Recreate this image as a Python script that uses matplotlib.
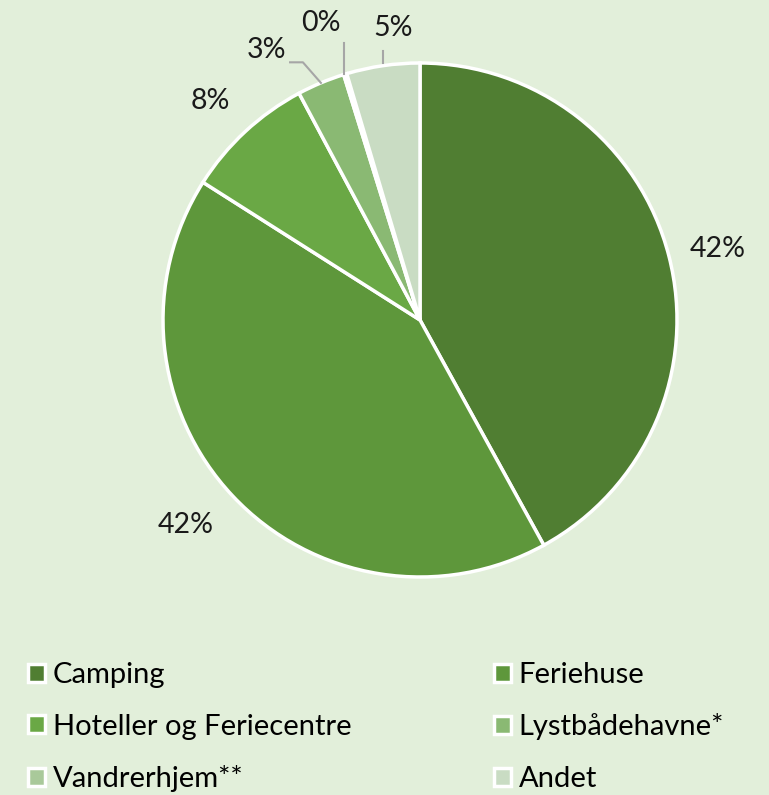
import numpy as np
import matplotlib
matplotlib.use('Agg')
import matplotlib.pyplot as plt
from matplotlib.patches import Patch

categories = ['Camping', 'Feriehuse', 'Hoteller og Feriecentre',
              'Lystbådehavne*', 'Vandrerhjem**', 'Andet']
shares = [42.0, 42.0, 8.2, 3.0, 0.2, 4.6]
labels = ['42%', '42%', '8%', '3%', '0%', '5%']
colors = ['#507E32', '#5E973B', '#6AA845', '#8AB973', '#A9C99A', '#C9DCC3']
bg = '#E2EFDA'

plt.rcParams['font.family'] = ['Lato', 'DejaVu Sans']

fig = plt.figure(figsize=(7.69, 7.95), dpi=100, facecolor=bg)
# pie axes: centre (420, 320) px, radius 257 px
r_px = 257
ax = fig.add_axes([(420 - r_px) / 769, 1 - (320 + r_px) / 795,
                   2 * r_px / 769, 2 * r_px / 795])
ax.set_facecolor(bg)
wedges, _ = ax.pie(shares, colors=colors, startangle=90, counterclock=False,
                   radius=1.0, wedgeprops=dict(edgecolor='white', linewidth=2.5))
ax.set_xlim(-1, 1)
ax.set_ylim(-1, 1)
ax.set_aspect('equal')
ax.axis('off')

# label placement (angle offset in deg, radius) and whether a leader line is used
label_pos = [(-1, 1.19), (-2, 1.21), (1, 1.18), (7, 1.21), (1.5, 1.22), (-3, 1.14)]
leader = [False, False, False, True, True, True]
for i, w in enumerate(wedges):
    mid = (w.theta1 + w.theta2) / 2
    da, rr = label_pos[i]
    a = np.deg2rad(mid + da)
    tx, ty = rr * np.cos(a), rr * np.sin(a)
    ax.text(tx, ty, labels[i], ha='center', va='center', fontsize=20.5,
            color='#1a1a1a', clip_on=False)
    if leader[i]:
        m = np.deg2rad(mid)
        ex, ey = np.cos(m), np.sin(m)
        if i == 3:
            pts = [(ex, ey), (ex - 0.07, ey + 0.08), (ex - 0.12, ey + 0.08)]
        elif i == 4:
            pts = [(ex - 0.005, ey), (ex - 0.005, ty - 0.08)]
        else:
            pts = [(ex, ey + 0.01), (ex, ty - 0.09)]
        xs, ys = zip(*pts)
        ax.plot(xs, ys, color='#a6a6a6', lw=1.5, clip_on=False)

handles = [Patch(facecolor=c, edgecolor='white', linewidth=2.5) for c in colors]
leg_kw = dict(frameon=False, fontsize=21, handlelength=0.57, handleheight=0.57,
              handletextpad=0.28, labelspacing=0.88, borderaxespad=0, borderpad=0)
left = fig.legend(handles[0::2], categories[0::2], loc='center left',
                  bbox_to_anchor=(28 / 769, 1 - 727 / 795), **leg_kw)
right = fig.legend(handles[1::2], categories[1::2], loc='center left',
                   bbox_to_anchor=(494 / 769, 1 - 727 / 795), **leg_kw)

fig.savefig('out.png', dpi=100, facecolor=bg)
